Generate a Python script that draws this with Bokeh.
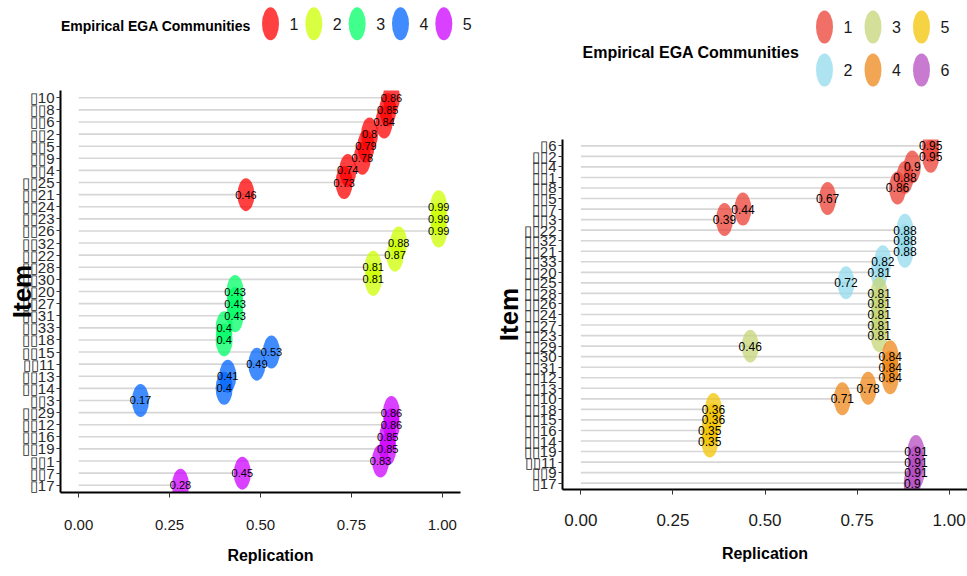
from bokeh.plotting import figure
from bokeh.layouts import row, column
from bokeh.models import Range1d, FixedTicker, NumeralTickFormatter, ColumnDataSource
from bokeh.core.properties import value
from bokeh.embed import file_html
from bokeh.resources import INLINE

# ---------------- data ----------------
legend_title = "Empirical EGA Communities"
x_axis_title = "Replication"
y_axis_title = "Item"
x_ticks = [0.0, 0.25, 0.5, 0.75, 1.0]

# left panel (top -> bottom)
left_items = ["▯10", "▯▯8", "▯▯6", "▯▯2", "▯▯5", "▯▯9", "▯▯4", "▯▯25", "▯▯21",
              "▯▯24", "▯▯23", "▯▯26", "▯▯32", "▯▯22", "▯▯28", "▯▯30",
              "▯▯20", "▯▯27", "▯▯31", "▯▯33", "▯▯18",
              "▯▯15", "▯▯11", "▯▯13", "▯▯14", "▯▯3",
              "▯▯29", "▯▯12", "▯▯16", "▯▯19", "▯▯1", "▯▯7", "▯17"]
left_values = [0.86, 0.85, 0.84, 0.80, 0.79, 0.78, 0.74, 0.73, 0.46,
               0.99, 0.99, 0.99, 0.88, 0.87, 0.81, 0.81,
               0.43, 0.43, 0.43, 0.40, 0.40,
               0.53, 0.49, 0.41, 0.40, 0.17,
               0.86, 0.86, 0.85, 0.85, 0.83, 0.45, 0.28]
left_communities = [1] * 9 + [2] * 7 + [3] * 5 + [4] * 5 + [5] * 7
left_legend = [1, 2, 3, 4, 5]
left_palette = ["#FF0000", "#CCFF00", "#00FF66", "#0066FF", "#CC00FF"]

# right panel (top -> bottom)
right_items = ["▯6", "▯▯2", "▯▯4", "▯▯1", "▯▯8", "▯▯5", "▯▯7", "▯▯3",
               "▯▯22", "▯▯32", "▯▯21", "▯▯33", "▯▯20", "▯▯25",
               "▯▯28", "▯▯26", "▯▯24", "▯▯27", "▯▯23", "▯▯29",
               "▯▯30", "▯▯31", "▯▯12", "▯▯13", "▯▯10",
               "▯▯18", "▯▯15", "▯▯16", "▯▯14",
               "▯▯19", "▯▯11", "▯▯9", "▯17"]
right_values = [0.95, 0.95, 0.90, 0.88, 0.86, 0.67, 0.44, 0.39,
                0.88, 0.88, 0.88, 0.82, 0.81, 0.72,
                0.81, 0.81, 0.81, 0.81, 0.81, 0.46,
                0.84, 0.84, 0.84, 0.78, 0.71,
                0.36, 0.36, 0.35, 0.35,
                0.91, 0.91, 0.91, 0.90]
right_communities = [1] * 8 + [2] * 6 + [3] * 6 + [4] * 5 + [5] * 4 + [6] * 4
right_legend = [1, 2, 3, 4, 5, 6]
right_palette = ["#EB4035", "#93DBED", "#C5D578", "#ED881B", "#F3C403", "#B54CC0"]

# ---------------- styling ----------------
FONT = "Liberation Sans, Arial, sans-serif"
ALPHA = 0.75
SEG_COLOR = "#D6D6D6"
EW, EH = 17, 33  # point ellipse size in px
X0, X1 = -0.05, 1.05  # visible axis extent


def panel(items, vals, comms, palette, width, height, mbl, mbr, mbt, mbb, extra_r,
          tick_fs, tick_standoff, lab_standoff, val_fs, item_standoff):
    n = len(items)
    ys = [n - 1 - i for i in range(n)]
    src = ColumnDataSource(dict(
        x=vals, y=ys, zero=[0.0] * n,
        c=[palette[k - 1] for k in comms],
        lab=[f"{v:g}" for v in vals]))
    # frame may run past the axis end (extra_r px) so the legend above has room
    axis_px = width - mbl - mbr - extra_r
    x_end = X1 + extra_r * (X1 - X0) / axis_px
    p = figure(width=width, height=height,
               x_range=Range1d(X0, x_end), y_range=Range1d(-0.6, n - 1 + 0.6),
               output_backend="svg", toolbar_location=None,
               min_border_left=mbl, min_border_right=mbr,
               min_border_top=mbt, min_border_bottom=mbb)
    p.segment(x0="zero", y0="y", x1="x", y1="y", source=src,
              line_color=SEG_COLOR, line_width=1.6)
    p.ellipse(x="x", y="y", width=EW, height=EH, width_units="screen",
              height_units="screen", fill_color="c", fill_alpha=ALPHA,
              line_color=None, source=src)
    p.text(x="x", y="y", text="lab", source=src, text_align="center",
           text_baseline="middle", text_font=value(FONT),
           text_font_size=val_fs, text_color="black")
    p.xgrid.visible = False
    p.ygrid.visible = False
    p.outline_line_color = None
    p.background_fill_color = "white"
    p.border_fill_color = "white"

    xa = p.xaxis[0]
    xa.bounds = (X0, X1)
    xa.ticker = FixedTicker(ticks=x_ticks, minor_ticks=[])
    xa.formatter = NumeralTickFormatter(format="0.00")
    xa.axis_label = x_axis_title
    xa.axis_label_text_font = FONT
    xa.axis_label_text_font_style = "bold"
    xa.axis_label_text_font_size = "16px"
    xa.axis_label_text_color = "black"
    xa.axis_label_standoff = lab_standoff
    xa.axis_line_width = 2
    xa.axis_line_color = "black"
    xa.major_tick_line_color = "#333333"
    xa.major_tick_out = 5
    xa.major_tick_in = 0
    xa.minor_tick_out = 0
    xa.minor_tick_in = 0
    xa.major_label_text_font = FONT
    xa.major_label_text_font_size = tick_fs
    xa.major_label_text_color = "#1A1A1A"
    xa.major_label_standoff = tick_standoff

    ya = p.yaxis[0]
    ya.ticker = FixedTicker(ticks=ys, minor_ticks=[])
    ya.major_label_overrides = {y: items[i] for i, y in enumerate(ys)}
    ya.axis_line_width = 2
    ya.axis_line_color = "black"
    ya.major_tick_line_color = "#333333"
    ya.major_tick_out = 4
    ya.major_tick_in = 0
    ya.minor_tick_out = 0
    ya.minor_tick_in = 0
    ya.major_label_text_font = FONT
    ya.major_label_text_font_size = "15px"
    ya.major_label_text_color = "#2A2A2A"
    ya.major_label_standoff = 2
    ya.axis_label = y_axis_title
    ya.axis_label_text_font = FONT
    ya.axis_label_text_font_style = "bold"
    ya.axis_label_text_font_size = "26px"
    ya.axis_label_text_color = "black"
    ya.axis_label_standoff = item_standoff
    return p


def legend_fig(width, height, mbl, mbr, comms, palette, cxs, cys,
               title_x, title_y, title_fs):
    # frame is aligned with the panel below it, so data x == pixel x
    f = figure(width=width, height=height, x_range=Range1d(mbl, width - mbr),
               y_range=Range1d(height, 0), output_backend="svg",
               toolbar_location=None, min_border_left=mbl, min_border_right=mbr,
               min_border_top=0, min_border_bottom=0,
               x_axis_location=None, y_axis_location=None)
    f.grid.visible = False
    f.outline_line_color = None
    f.ellipse(x=cxs, y=cys, width=EW, height=EH, width_units="screen",
              height_units="screen", fill_color=[palette[k - 1] for k in comms],
              fill_alpha=ALPHA, line_color=None)
    f.text(x=[cx + 19 for cx in cxs], y=cys, text=[str(k) for k in comms],
           text_align="left", text_baseline="middle", text_font=value(FONT),
           text_font_size="16px", text_color="#1A1A1A")
    f.text(x=[title_x], y=[title_y], text=[legend_title], text_align="left",
           text_baseline="middle", text_font=value(FONT), text_font_style="bold",
           text_font_size=title_fs, text_color="black")
    return f


# left column
legL = legend_fig(480, 81, 60, 0, left_legend, left_palette,
                  [270 + 43.33 * i for i in range(len(left_legend))],
                  [23.3] * len(left_legend), 60.5, 25.0, "14px")
pL = panel(left_items, left_values, left_communities, left_palette,
           480, 495, 60, 0, 9, 84, 20, "15px", 22, 14, "11px", -18)

# right column
legR = legend_fig(487, 130, 82, 0, right_legend, right_palette,
                  [344 + 48.5 * ((k - 1) // 2) for k in right_legend],
                  [26.5 + 43.0 * ((k - 1) % 2) for k in right_legend],
                  102, 52.0, "16px")
pR = panel(right_items, right_values, right_communities, right_palette,
           487, 446, 82, 0, 9, 87, 0, "17px", 19, 16, "12px", -3)

layout = row(column(legL, pL), column(legR, pR))
open("out.html", "w").write(file_html(layout, INLINE))
